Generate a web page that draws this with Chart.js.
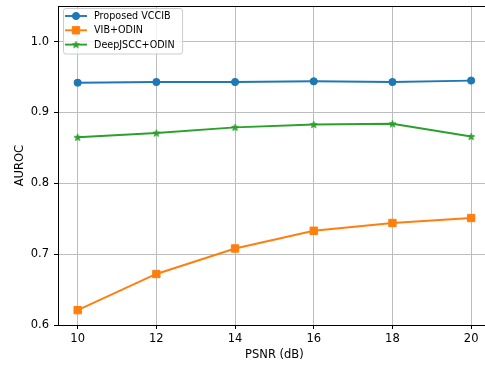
<!DOCTYPE html>
<html><head><meta charset="utf-8">
<script src="https://cdn.jsdelivr.net/npm/chart.js@4/dist/chart.umd.min.js"></script>
<style>
html,body{margin:0;padding:0;background:#fff;overflow:hidden;width:485px;height:368px}
#clip{position:absolute;left:0;top:0;width:485px;height:368px;overflow:hidden}
#wrap{position:absolute;left:0;top:0;width:497px;height:368px}
</style>
</head><body><div id="clip"><div id="wrap"><canvas id="c" width="497" height="368"></canvas></div></div>
<script>
const psnr = [10, 12, 14, 16, 18, 20];
const vccib = [0.942, 0.943, 0.943, 0.944, 0.943, 0.945];
const vibOdin = [0.621, 0.672, 0.708, 0.733, 0.744, 0.751];
const deepjsccOdin = [0.865, 0.871, 0.879, 0.883, 0.884, 0.866];
const xTicks = [10, 12, 14, 16, 18, 20];
const yTicks = [0.6, 0.7, 0.8, 0.9, 1.0];
const seriesNames = ['Proposed VCCIB', 'VIB+ODIN', 'DeepJSCC+ODIN'];

const FONT = '"DejaVu Sans", sans-serif';
const C_BLUE = '#1f77b4', C_ORANGE = '#ff7f0e', C_GREEN = '#2ca02c';

function makeStar(color, R) {
  const s = Math.ceil(R * 2 + 3);
  const c = document.createElement('canvas');
  c.width = s; c.height = s;
  const g = c.getContext('2d');
  g.translate(s / 2, s / 2 + 0.3);
  g.beginPath();
  for (let i = 0; i < 10; i++) {
    const r = i % 2 ? R * 0.382 : R;
    const a = -Math.PI / 2 + i * Math.PI / 5;
    g.lineTo(r * Math.cos(a), r * Math.sin(a));
  }
  g.closePath();
  g.fillStyle = color; g.fill();
  g.strokeStyle = color; g.lineWidth = 1; g.lineJoin = 'miter'; g.stroke();
  return c;
}
const starImg = makeStar(C_GREEN, 3.7);

const pts = arr => psnr.map((x, i) => ({x: x, y: arr[i]}));

const legendPlugin = {
  id: 'mplLegend',
  afterDraw(chart) {
    const ctx = chart.ctx;
    ctx.save();
    ctx.font = '9.6px ' + FONT;
    const x0 = 63.5, y0 = 8.5, rowH = 14.3, textX = 94;
    let maxW = 0;
    chart.data.datasets.forEach(d => { maxW = Math.max(maxW, ctx.measureText(d.label).width); });
    const w = textX - x0 + maxW + 8, h = 45.5;
    ctx.beginPath();
    if (ctx.roundRect) ctx.roundRect(x0, y0, w, h, 2.5); else ctx.rect(x0, y0, w, h);
    ctx.fillStyle = 'rgba(255,255,255,0.8)';
    ctx.fill();
    ctx.strokeStyle = '#cccccc'; ctx.lineWidth = 1; ctx.stroke();
    chart.data.datasets.forEach((d, i) => {
      const y = 16 + i * rowH;
      ctx.beginPath();
      ctx.moveTo(65, y); ctx.lineTo(87, y);
      ctx.strokeStyle = d.borderColor; ctx.lineWidth = d.borderWidth; ctx.stroke();
      ctx.fillStyle = d.pointBackgroundColor; ctx.strokeStyle = d.pointBorderColor; ctx.lineWidth = d.pointBorderWidth;
      Chart.helpers.drawPoint(ctx, {pointStyle: d.pointStyle, radius: d.pointRadius, borderWidth: d.pointBorderWidth, rotation: 0}, 76, y);
      ctx.fillStyle = '#000';
      ctx.textBaseline = 'middle';
      ctx.textAlign = 'left';
      ctx.fillText(d.label, textX, y + 0.5);
    });
    ctx.restore();
  }
};

const framePlugin = {
  id: 'frame',
  afterDraw(chart) {
    const a = chart.chartArea, ctx = chart.ctx;
    ctx.save();
    ctx.strokeStyle = '#000'; ctx.lineWidth = 1;
    ctx.beginPath();
    const t = Math.round(a.top) + 0.5;
    ctx.moveTo(a.left, t); ctx.lineTo(a.right, t);
    ctx.stroke();
    ctx.restore();
  }
};

new Chart(document.getElementById('c'), {
  type: 'line',
  data: {
    datasets: [
      {label: seriesNames[0], data: pts(vccib), borderColor: C_BLUE, backgroundColor: C_BLUE,
       borderWidth: 1.9, pointStyle: 'circle', pointRadius: 3.6, pointBorderWidth: 1,
       pointBackgroundColor: C_BLUE, pointBorderColor: C_BLUE, tension: 0, fill: false},
      {label: seriesNames[1], data: pts(vibOdin), borderColor: C_ORANGE, backgroundColor: C_ORANGE,
       borderWidth: 1.9, pointStyle: 'rect', pointRadius: 5.2, pointBorderWidth: 1,
       pointBackgroundColor: C_ORANGE, pointBorderColor: C_ORANGE, tension: 0, fill: false},
      {label: seriesNames[2], data: pts(deepjsccOdin), borderColor: C_GREEN, backgroundColor: C_GREEN,
       borderWidth: 1.9, pointStyle: starImg, pointRadius: 4, pointBorderWidth: 1,
       pointBackgroundColor: C_GREEN, pointBorderColor: C_GREEN, tension: 0, fill: false}
    ]
  },
  options: {
    responsive: false,
    animation: false,
    layout: {padding: {top: 2, right: 2, left: 0, bottom: 0}},
    plugins: {legend: {display: false}, tooltip: {enabled: false}},
    scales: {
      x: {
        type: 'linear', min: 9.5, max: 20.5,
        afterBuildTicks: s => { s.ticks = xTicks.map(v => ({value: v})); },
        afterFit: s => { s.height = 43; s.paddingLeft = 0; s.paddingRight = 0; s.paddingTop = 0; s.paddingBottom = 0; },
        grid: {color: '#bdbdbd', lineWidth: 1, tickColor: '#000', tickLength: 4, drawTicks: true},
        border: {display: true, color: '#000', width: 1},
        ticks: {color: '#000', font: {family: FONT, size: 11.5}, padding: 3, maxRotation: 0,
                callback: v => String(v)},
        title: {display: true, text: 'PSNR (dB)', color: '#000', font: {family: FONT, size: 11.5},
                padding: {top: 0, bottom: 5.6}}
      },
      y: {
        type: 'linear', min: 0.6, max: 1.05,
        afterBuildTicks: s => { s.ticks = yTicks.map(v => ({value: v})); },
        afterFit: s => { s.width = 58; s.paddingLeft = 0; s.paddingRight = 0; s.paddingTop = 0; s.paddingBottom = 0; },
        grid: {color: '#bdbdbd', lineWidth: 1, tickColor: '#000', tickLength: 4, drawTicks: true},
        border: {display: true, color: '#000', width: 1},
        ticks: {color: '#000', font: {family: FONT, size: 11.5}, padding: 5,
                callback: v => Number(v).toFixed(1)},
        title: {display: true, text: 'AUROC', color: '#000', font: {family: FONT, size: 11.5},
                padding: {top: 13, bottom: 0}}
      }
    }
  },
  plugins: [legendPlugin, framePlugin]
});
</script>
</body></html>
